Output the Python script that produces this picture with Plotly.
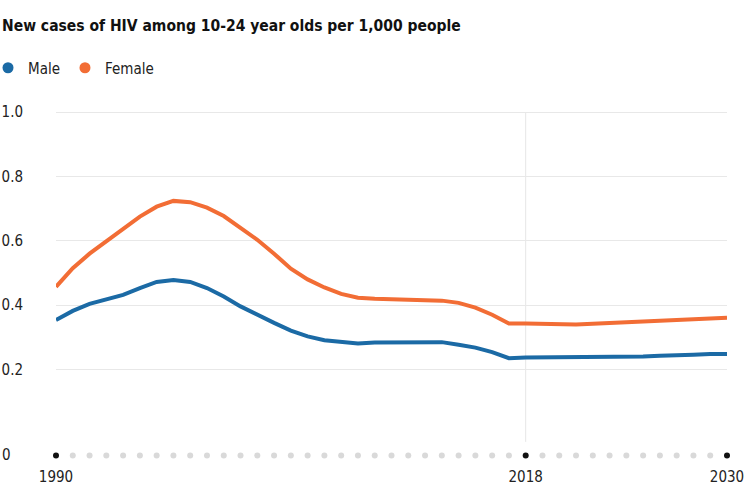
import plotly.graph_objects as go

years = list(range(1990, 2031))
male = [0.354, 0.382, 0.404, 0.418, 0.432, 0.453, 0.472, 0.478, 0.472, 0.453,
        0.427, 0.396, 0.369, 0.345, 0.321, 0.303, 0.291, 0.285, 0.281, 0.284,
        0.284, 0.286, 0.286, 0.285, 0.277, 0.268, 0.254, 0.235, 0.237, 0.237,
        0.237, 0.237, 0.237, 0.237, 0.240, 0.240, 0.243, 0.243, 0.246, 0.248,
        0.248]
female = [0.457, 0.515, 0.560, 0.598, 0.637, 0.675, 0.706, 0.724, 0.720, 0.703,
          0.677, 0.640, 0.603, 0.560, 0.513, 0.480, 0.455, 0.435, 0.423, 0.420,
          0.418, 0.417, 0.415, 0.414, 0.407, 0.392, 0.370, 0.343, 0.343, 0.342,
          0.340, 0.340, 0.342, 0.344, 0.347, 0.350, 0.352, 0.355, 0.357, 0.359,
          0.361]
x_tick_years = [1990, 2018, 2030]
projection_year = 2018
y_ticks = [0.2, 0.4, 0.6, 0.8, 1.0]
y_tick_text = ["0.2", "0.4", "0.6", "0.8", "1.0"]
axis_row = -0.067
title_text = "<b>New cases of HIV among 10-24 year olds per 1,000 people</b>"

BLUE = "#1b6aa5"
ORANGE = "#f26d35"
FONT = "DejaVu Sans Condensed, Liberation Sans Narrow, Roboto, sans-serif"

W, H = 744, 487
ML, MR, MT, MB = 56, 17, 96, 21
PW, PH = W - ML - MR, H - MT - MB

fig = go.Figure()

# axis dot row
dot_colors = ["#111111" if y in x_tick_years else "#d9d9d9" for y in years]
fig.add_trace(go.Scatter(x=years, y=[axis_row] * len(years), mode="markers",
                         marker=dict(size=6, color=dot_colors), showlegend=False,
                         hoverinfo="skip", cliponaxis=False))

fig.add_trace(go.Scatter(x=years, y=male, mode="lines", name="Male",
                         line=dict(color=BLUE, width=4), showlegend=False,
                         cliponaxis=False))
fig.add_trace(go.Scatter(x=years, y=female, mode="lines", name="Female",
                         line=dict(color=ORANGE, width=4), showlegend=False,
                         cliponaxis=False))
# legend entries (circle markers)
fig.add_trace(go.Scatter(x=[None], y=[None], mode="markers", name="Male",
                         marker=dict(size=11, color=BLUE)))
fig.add_trace(go.Scatter(x=[None], y=[None], mode="markers", name="Female",
                         marker=dict(size=11, color=ORANGE)))

fig.add_shape(type="line", x0=projection_year, x1=projection_year, y0=-0.025, y1=1.0,
              xref="x", yref="y", line=dict(color="#e6e6e6", width=1), layer="below")

fig.add_annotation(text="0", x=-ML / PW, xref="paper", xanchor="left",
                   y=axis_row, yref="y", showarrow=False,
                   font=dict(family=FONT, size=15, color="#222222"))

fig.add_annotation(text=title_text, x=-ML / PW, xref="paper", xanchor="left",
                   y=(H - MB - 26) / PH, yref="paper", yanchor="middle",
                   showarrow=False,
                   font=dict(family=FONT, size=15.5, color="#111111"))

fig.update_layout(
    width=W, height=H,
    margin=dict(l=ML, r=MR, t=MT, b=MB, autoexpand=False),
    paper_bgcolor="white", plot_bgcolor="white",
    legend=dict(orientation="h", x=(-12 - ML) / PW, xref="paper", xanchor="left",
                y=1 - 68 / H, yref="container", yanchor="middle",
                font=dict(family=FONT, size=15, color="#222222"),
                itemwidth=30, tracegroupgap=0, bgcolor="rgba(0,0,0,0)"),
    xaxis=dict(range=[1990, 2030], tickvals=x_tick_years, showgrid=False,
               zeroline=False, showline=False, ticks="", automargin=False,
               ticklabeloverflow="allow",
               tickfont=dict(family=FONT, size=15, color="#222222")),
    yaxis=dict(range=[-0.1, 1.05], tickvals=y_ticks, ticktext=y_tick_text,
               showgrid=True, gridcolor="#e8e8e8", gridwidth=1, zeroline=False,
               showline=False, ticks="", ticklabelstandoff=32, automargin=False,
               tickfont=dict(family=FONT, size=15, color="#222222")),
)

fig.write_html("out.html", config={"displayModeBar": False},
               post_script="document.body.style.margin='0';")
